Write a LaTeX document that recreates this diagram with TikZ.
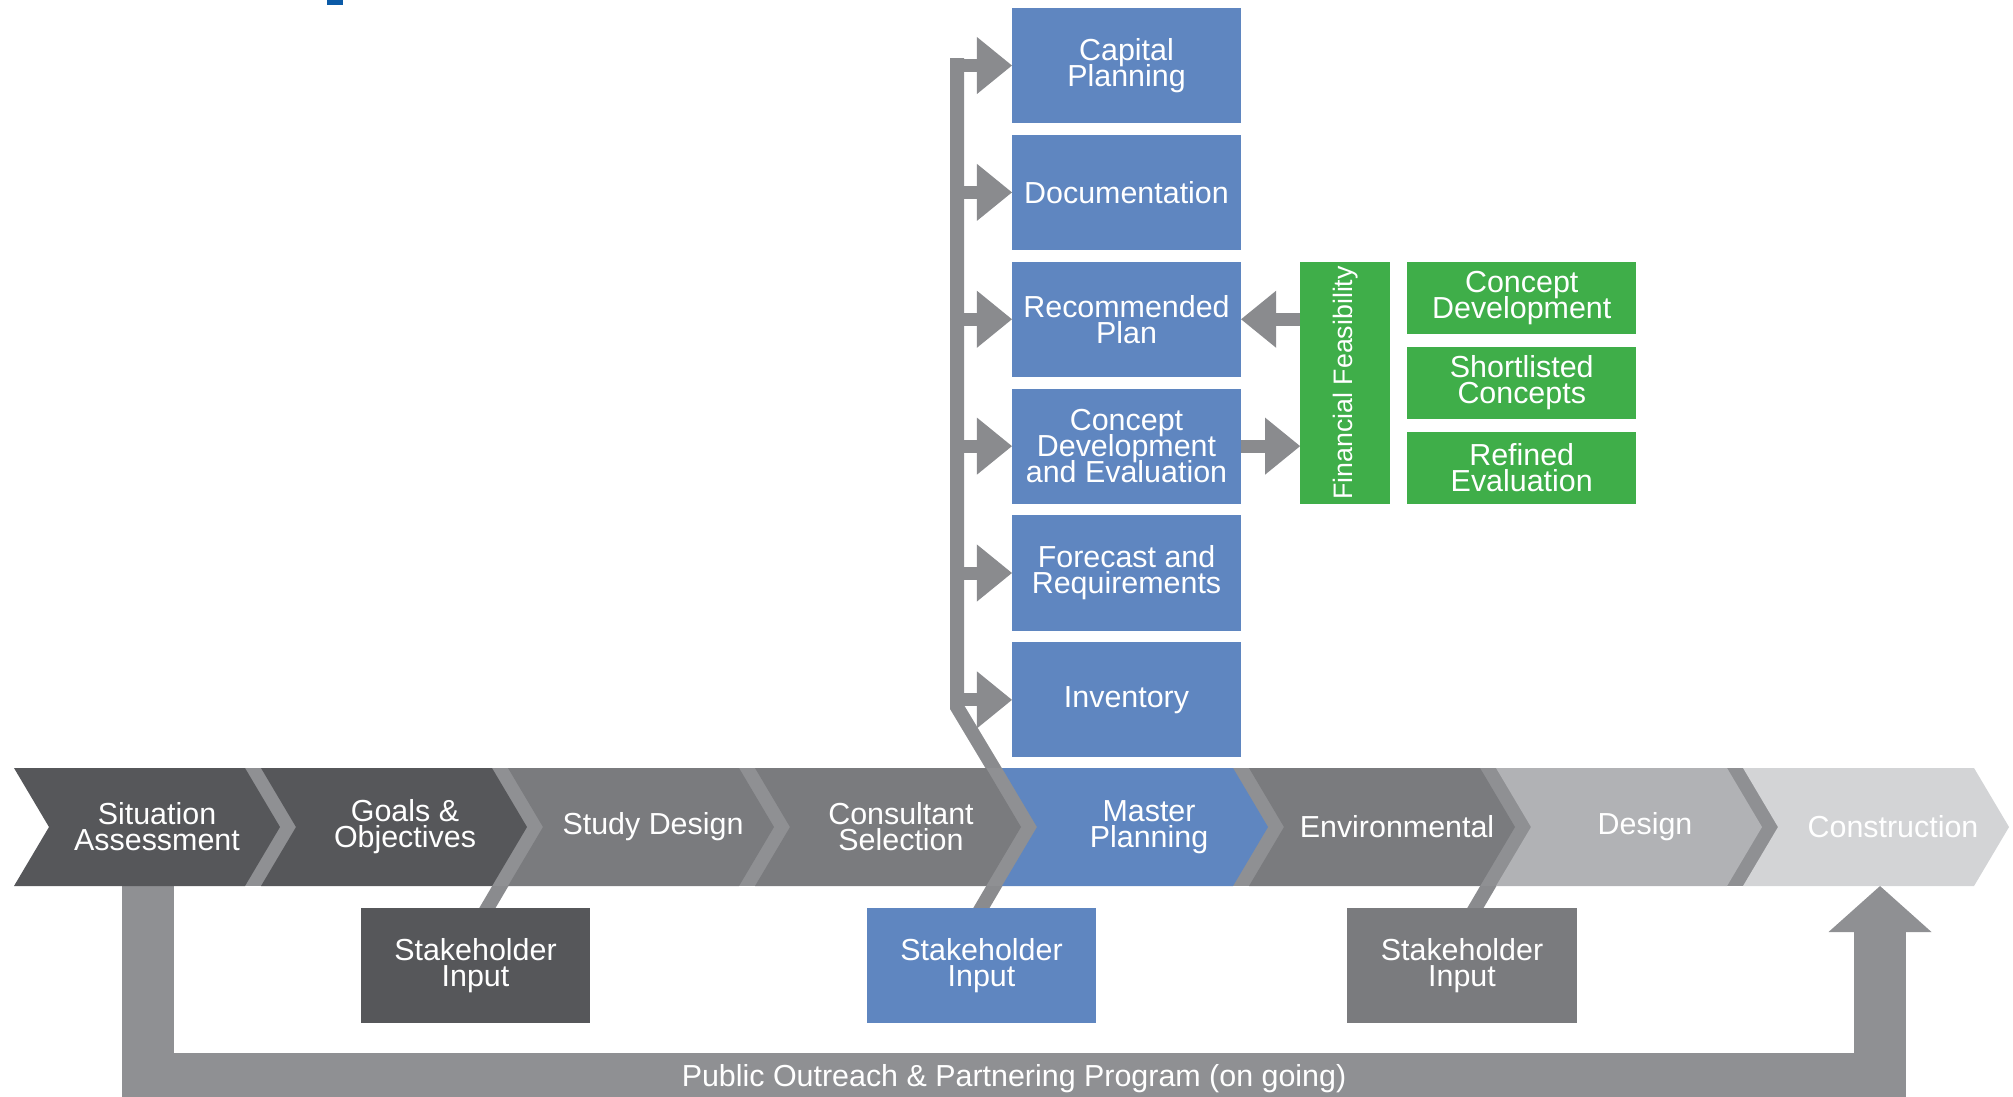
\documentclass[tikz,border=0pt]{standalone}
\usepackage{fontspec}
\setmainfont{Liberation Sans}
\usetikzlibrary{arrows.meta}
\usetikzlibrary{calc}
\usetikzlibrary{positioning}

\definecolor{stepdark}{HTML}{56575A}
\definecolor{stepmid}{HTML}{7A7B7E}
\definecolor{steplight}{HTML}{B1B2B5}
\definecolor{steppale}{HTML}{D3D4D6}
\definecolor{planblue}{HTML}{5F86C0}
\definecolor{feasgreen}{HTML}{3FAE49}
\definecolor{sepgray}{HTML}{8F9093}
\definecolor{linkgray}{HTML}{8A8B8E}
\definecolor{markblue}{HTML}{0B5AA7}

\newcommand{\diagfont}{\fontsize{8.65}{7.4}\selectfont\lineskiplimit=-10pt}

\pgfdeclarelayer{background}
\pgfsetlayers{background,main}

\tikzset{
  cellbox/.style={inner sep=0pt, outer sep=0pt, text=white, align=center, font=\diagfont, minimum width=2.29cm},
  bluebox/.style={cellbox, fill=planblue, minimum height=1.15cm},
  greenbox/.style={cellbox, fill=feasgreen, minimum height=0.72cm},
  inputbox/.style={cellbox, minimum height=1.15cm},
  chevtext/.style={text=white, align=center, font=\diagfont, inner sep=0pt},
  spinelink/.style={draw=linkgray, line width=0.14cm},
  arr/.style={draw=linkgray, line width=0.13cm, -{Triangle[length=0.35cm,width=0.57cm,line width=0pt]}},
  outreach/.style={draw=sepgray, line width=0.52cm, -{Triangle[length=0.46cm,width=1.03cm,line width=0pt]}}
}

\begin{document}
\begin{tikzpicture}[x=0.01cm, y=-0.01cm]
\useasboundingbox (0,0) rectangle (2013,1096);
\fill[markblue] (327,0) rectangle (343,5);

\fill[sepgray] (245,768) rectangle (1974,886);
\foreach \i/\col/\nm/\txt in {0/stepdark/sa/{Situation\\Assessment}, 1/stepdark/go/{Goals \&\\Objectives}, 2/stepmid/sd/{Study Design}, 3/stepmid/cs/{Consultant\\Selection}, 4/planblue/mp/{Master\\Planning}, 5/stepmid/en/{Environmental}, 6/steplight/de/{Design}, 7/steppale/co/{Construction}} {
  \fill[\col] ({14+247*\i},768) -- ++(231,0) -- ++(35,59) -- ++(-35,59) -- ++(-231,0) -- ++(35,-59) -- cycle;
  \node[chevtext] (\nm) at ({157+248*\i},827) {\txt};
}

\node[bluebox] (cap) at (1126.5,65.5) {Capital\\Planning};
\node[bluebox, below=0.118cm, at=(cap.south)] (doc) {Documentation};
\node[bluebox, below=0.118cm, at=(doc.south)] (rec) {Recommended\\Plan};
\node[bluebox, below=0.118cm, at=(rec.south)] (cde) {Concept\\Development\\and Evaluation};
\node[bluebox, below=0.118cm, at=(cde.south)] (frc) {Forecast and\\Requirements};
\node[bluebox, below=0.118cm, at=(frc.south)] (inv) {Inventory};

\node[cellbox, fill=feasgreen, minimum width=0.9cm, minimum height=2.42cm, anchor=north west, xshift=0.59cm, at=(rec.north east), font={\fontsize{7.6}{8}\selectfont}] (ff) {\rotatebox{90}{Financial Feasibility}};
\node[greenbox, anchor=north west, xshift=0.17cm, at=(ff.north east)] (cdv) {Concept\\Development};
\node[greenbox, below=0.13cm, at=(cdv.south)] (slc) {Shortlisted\\Concepts};
\node[greenbox, below=0.13cm, at=(slc.south)] (ref) {Refined\\Evaluation};

\node[inputbox, fill=stepdark] (sk1) at (475.5,965.5) {Stakeholder\\Input};
\node[inputbox, fill=planblue] (sk2) at (981.5,965.5) {Stakeholder\\Input};
\node[inputbox, fill=stepmid] (sk3) at (1462,965.5) {Stakeholder\\Input};

\coordinate (spinetop) at (957,58);
\coordinate (spinebot) at (957,707);
\coordinate (s1) at (535,827);
\coordinate (s3) at (1029,827);
\coordinate (s5) at (1523,827);
\coordinate (ostart) at (148,886);
\coordinate (oend) at (1880,886);

\begin{pgfonlayer}{background}
\draw[spinelink] (spinetop) -- (spinebot) -- (s3);
\draw[spinelink] ($(sk1.north)+(6,10)$) -- (s1);
\draw[spinelink] ($(sk2.north)+(-6,10)$) -- (s3);
\draw[spinelink] ($(sk3.north)+(7.5,10)$) -- (s5);
\draw[outreach] (ostart) -- (148,1079) -- node[font=\diagfont, text=white] {Public Outreach \& Partnering Program (on going)} (1880,1079) -- (oend);
\end{pgfonlayer}

\foreach \b in {cap,doc,rec,cde,frc,inv}
  \draw[arr] (spinebot |- \b.west) -- (\b.west);
\draw[arr] (ff.west |- rec.east) -- (rec.east);
\draw[arr] (cde.east) -- (ff.west |- cde.east);
\end{tikzpicture}
\end{document}
